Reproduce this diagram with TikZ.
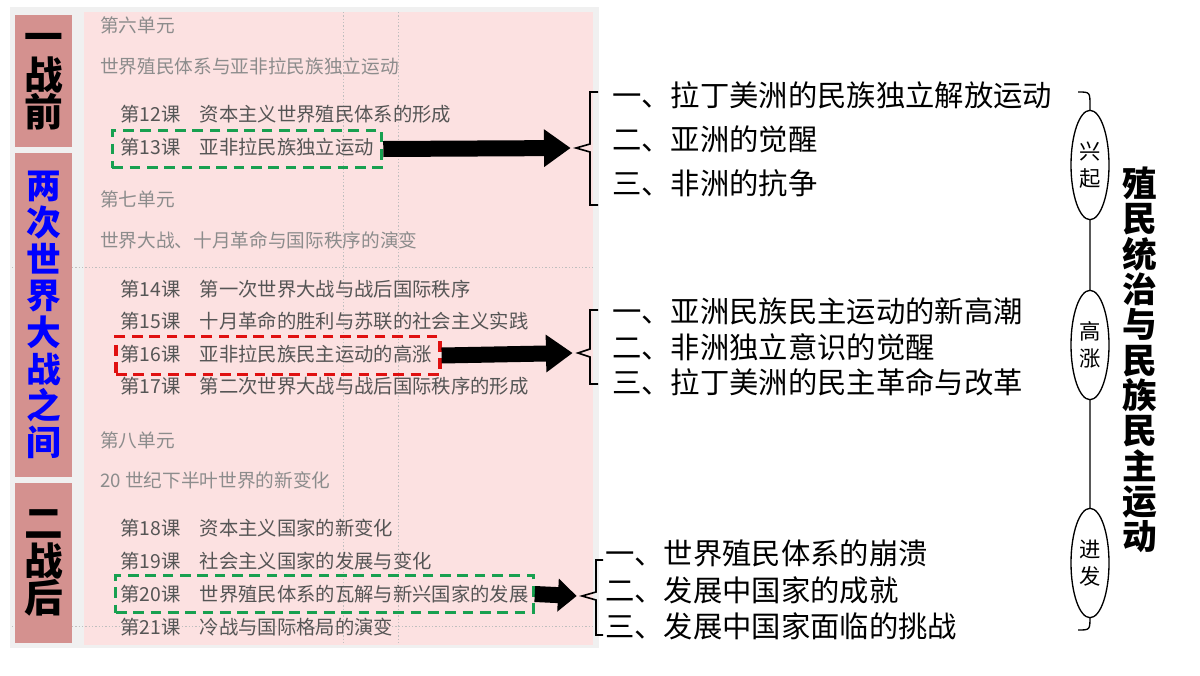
\documentclass[tikz,border=0pt]{standalone}
\usepackage{fontspec}
\setmainfont{Noto Sans CJK SC}
\usetikzlibrary{arrows.meta,shapes.geometric}
\definecolor{pinkbg}{HTML}{FCE1E1}
\definecolor{rose}{HTML}{D4918F}
\definecolor{unitgray}{HTML}{8C8C8C}
\definecolor{lessongray}{HTML}{555555}
\definecolor{dgreen}{HTML}{18A050}
\definecolor{dred}{HTML}{E01010}
\tikzset{
  px/.style={x=0.75pt,y=-0.75pt},
  unit/.style={anchor=west,text=unitgray,font=\fontsize{14}{16}\selectfont,inner sep=0},
  lesson/.style={anchor=west,text=lessongray,font=\fontsize{14.5}{17}\selectfont,inner sep=0},
  item/.style={anchor=west,text=black,font=\fontsize{22}{24}\selectfont,inner sep=0},
  side/.style={fill=rose,draw=none,inner sep=0},
  sidetxt/.style={align=center,font=\bfseries\fontsize{29}{30}\selectfont,inner sep=0},
  dbox/.style={dash pattern=on 8pt off 5pt,line width=2.4pt},
  bigarrow/.style={line width=12pt,-{Triangle[length=20pt,width=27pt]}},
  brace/.style={line width=1.2pt},
  stage/.style={ellipse,draw,line width=1pt,fill=white,minimum width=28.5pt,minimum height=82pt,inner sep=0,align=center,font=\fontsize{16}{20}\selectfont},
  guide/.style={draw=gray!50,dash pattern=on 1pt off 1.5pt,line width=0.5pt}
}
\begin{document}
\begin{tikzpicture}[px]
\useasboundingbox (0,0) rectangle (1200,675);
\fill[white] (0,0) rectangle (1200,675);
\fill[gray!12] (10,7) rectangle (599,648);
\fill[pinkbg] (84,12) rectangle (593,645);
\path[guide] (343,12) -- (343,645);
\path[guide] (398,12) -- (398,645);
\path[guide] (12,267) -- (593,267);
\path[guide] (12,626) -- (593,626);
% side labels
\fill[side] (15,15) rectangle (72,147);
\fill[side] (15,153) rectangle (72,477);
\fill[side] (15,483) rectangle (72,643);
\node[sidetxt] (s1) at (43.5,82) {一\\[-2pt]战\\[-2pt]前};
\node[sidetxt,text=blue,font=\bfseries\fontsize{26}{27.5}\selectfont] (s2) at (43.5,315) {两\\次\\世\\界\\大\\战\\之\\间};
\node[sidetxt] (s3) at (43.5,563) {二\\[-2pt]战\\[-2pt]后};
% left texts
\node[unit] (u6) at (100,25) {第六单元};
\node[unit] (u6t) at (100,66) {世界殖民体系与亚非拉民族独立运动};
\node[lesson] (l12) at (120,114) {第12课\quad 资本主义世界殖民体系的形成};
\node[lesson] (l13) at (120,147) {第13课\quad 亚非拉民族独立运动};
\node[unit] (u7) at (100,199) {第七单元};
\node[unit] (u7t) at (100,240) {世界大战、十月革命与国际秩序的演变};
\node[lesson] (l14) at (120,289) {第14课\quad 第一次世界大战与战后国际秩序};
\node[lesson] (l15) at (120,321) {第15课\quad 十月革命的胜利与苏联的社会主义实践};
\node[lesson] (l16) at (120,354) {第16课\quad 亚非拉民族民主运动的高涨};
\node[lesson] (l17) at (120,386) {第17课\quad 第二次世界大战与战后国际秩序的形成};
\node[unit] (u8) at (100,440) {第八单元};
\node[unit] (u8t) at (100,480) {20 世纪下半叶世界的新变化};
\node[lesson] (l18) at (120,528) {第18课\quad 资本主义国家的新变化};
\node[lesson] (l19) at (120,561) {第19课\quad 社会主义国家的发展与变化};
\node[lesson] (l20) at (120,594) {第20课\quad 世界殖民体系的瓦解与新兴国家的发展};
\node[lesson] (l21) at (120,627) {第21课\quad 冷战与国际格局的演变};
% dashed boxes
\node[dbox,draw=dgreen,minimum width=202pt,minimum height=28pt] (g1) at (247,149) {};
\node[dbox,draw=dred,minimum width=243pt,minimum height=28pt] (r1) at (278,355.5) {};
\node[dbox,draw=dgreen,minimum width=313pt,minimum height=28pt] (g2) at (324.5,594) {};
% braces
\coordinate (b1) at (576,148);
\coordinate (b2) at (578,353);
\coordinate (b3) at (582,596);
\draw[brace] (598,92) -- (590,92) -- (590,144) -- (b1) -- (590,152) -- (590,205) -- (598,205);
\draw[brace] (598,310) -- (590,310) -- (590,349) -- (b2) -- (590,357) -- (590,384) -- (598,384);
\draw[brace] (603,560) -- (596,560) -- (596,592) -- (b3) -- (596,600) -- (596,635) -- (603,635);
% arrows
\draw[bigarrow] (g1.east) -- ([xshift=-4]b1);
\draw[bigarrow] (r1.east) -- ([xshift=-4]b2);
\draw[bigarrow,-{Triangle[length=14pt,width=24pt]}] (g2.east) -- ([xshift=-4]b3);
% items
\node[item] (a1) at (612,95) {一、拉丁美洲的民族独立解放运动};
\node[item] (a2) at (612,139) {二、亚洲的觉醒};
\node[item] (a3) at (612,183) {三、非洲的抗争};
\node[item] (c1) at (612,311) {一、亚洲民族民主运动的新高潮};
\node[item] (c2) at (612,347) {二、非洲独立意识的觉醒};
\node[item] (c3) at (612,382) {三、拉丁美洲的民主革命与改革};
\node[item] (d1) at (605,553) {一、世界殖民体系的崩溃};
\node[item] (d2) at (605,590) {二、发展中国家的成就};
\node[item] (d3) at (605,626) {三、发展中国家面临的挑战};
% timeline
\coordinate (ttop) at (1078,92);
\coordinate (tbot) at (1078,630);
\draw[line width=1pt] (ttop) .. controls (1090,92) .. (1090,106) -- (1090,616) .. controls (1090,630) .. (tbot);
\node[stage] (e1) at (1090,165) {兴\\起};
\node[stage] (e2) at (1090,345) {高\\涨};
\node[stage] (e3) at (1090,563) {进\\发};
\node[align=center,inner sep=0,font=\bfseries\fontsize{26}{26.5}\selectfont] (title) at (1140,360) {殖\\民\\统\\治\\与\\民\\族\\民\\主\\运\\动};
\end{tikzpicture}
\end{document}
